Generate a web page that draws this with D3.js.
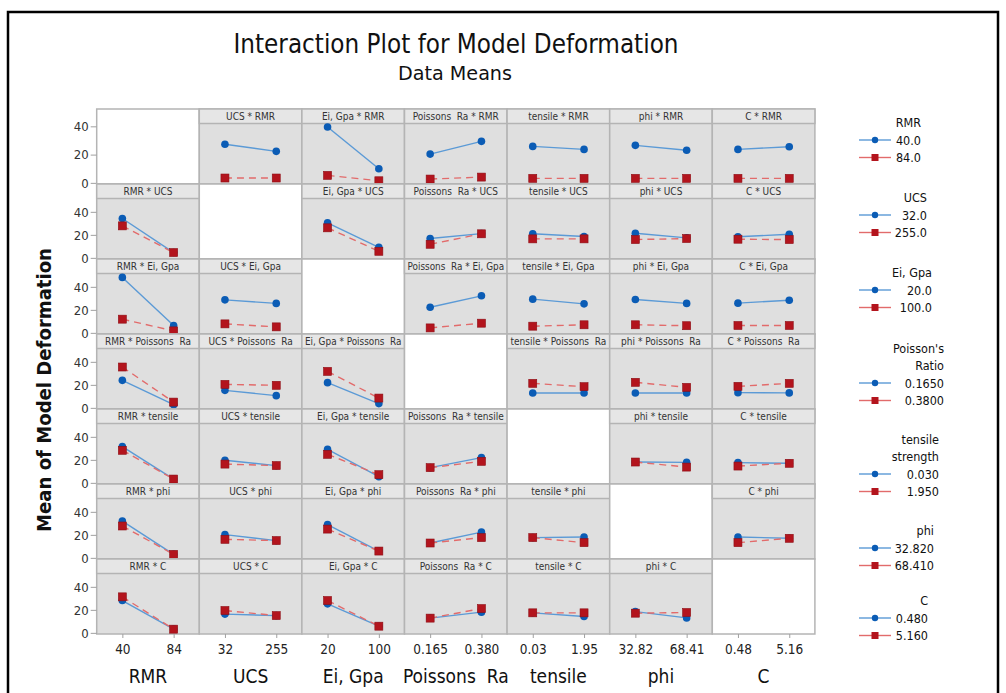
<!DOCTYPE html>
<html>
<head>
<meta charset="utf-8">
<script src="https://cdn.jsdelivr.net/npm/d3@7"></script>
<style>
  body { margin: 0; background: #fff; }
  text { font-family: "Liberation Sans Narrow", "DejaVu Sans Condensed", "Open Sans", sans-serif; font-stretch: condensed; }
  .keep { white-space: pre; }
</style>
</head>
<body>
<div id="chart"></div>
<script>
// factors (rows = trace factor, columns = x factor)
const factors = ["RMR", "UCS", "Ei, Gpa", "Poissons  Ra", "tensile", "phi", "C"];
const xTickLabels = [["40", "84"], ["32", "255"], ["20", "100"], ["0.165", "0.380"], ["0.03", "1.95"], ["32.82", "68.41"], ["0.48", "5.16"]];
const legendTitles = [["RMR"], ["UCS"], ["Ei, Gpa"], ["Poisson's", "Ratio"], ["tensile", "strength"], ["phi"], ["C"]];
const legendLevels = [["40.0", "84.0"], ["32.0", "255.0"], ["20.0", "100.0"], ["0.1650", "0.3800"], ["0.030", "1.950"], ["32.820", "68.410"], ["0.480", "5.160"]];
const yTicks = [0, 20, 40];

// means: each entry = [at low x level, at high x level], null on the diagonal
const rmrLow   = [null, [33.5, 27.4], [48.5, 12.3], [25.0, 36.1], [31.7, 29.1], [32.6, 28.3], [29.1, 31.4]];
const rmrHigh  = [null, [4.2, 4.2], [6.5, 1.8], [3.3, 5.0], [3.9, 3.9], [3.9, 3.9], [3.9, 3.9]];
const ucsLow   = [[34.2, 4.6], null, [30.4, 9.2], [16.8, 21.1], [20.9, 18.5], [21.4, 17.4], [18.3, 20.5]];
const ucsHigh  = [[27.8, 4.6], null, [26.1, 5.7], [11.8, 20.9], [16.5, 16.5], [15.9, 16.8], [16.2, 15.9]];
const eiLow    = [[48.2, 6.4], [28.7, 25.6], null, [22.3, 32.2], [29.3, 25.2], [29.0, 25.6], [25.8, 28.4]];
const eiHigh   = [[11.9, 1.7], [7.8, 5.2], null, [4.3, 8.4], [5.8, 7.0], [7.0, 6.2], [6.4, 6.4]];
const poisLow  = [[23.9, 2.8], [15.2, 10.6], [21.9, 3.7], null, [12.9, 12.9], [12.9, 12.9], [13.2, 13.0]];
const poisHigh = [[35.5, 5.0], [20.4, 19.6], [31.7, 8.5], null, [21.3, 18.4], [22.2, 17.8], [18.7, 21.3]];
const tensLow  = [[31.5, 3.3], [19.6, 15.0], [29.1, 5.4], [13.2, 21.9], null, [18.1, 17.8], [17.6, 17.0]];
const tensHigh = [[28.3, 3.3], [16.3, 15.0], [24.8, 7.1], [13.2, 18.7], null, [18.1, 13.7], [14.6, 17.0]];
const phiLow   = [[32.0, 3.0], [20.2, 15.0], [28.9, 5.9], [12.9, 22.4], [17.6, 18.1], null, [18.1, 17.0]];
const phiHigh  = [[27.7, 3.0], [16.1, 15.0], [25.0, 5.9], [12.9, 17.6], [17.6, 13.2], null, [13.2, 17.0]];
const cLow     = [[28.1, 3.2], [16.3, 15.0], [25.2, 5.8], [12.8, 18.0], [17.4, 14.2], [18.5, 13.0], null];
const cHigh    = [[31.3, 3.2], [19.4, 15.0], [28.1, 5.8], [12.8, 21.1], [17.4, 17.4], [17.1, 17.7], null];

const lowMeans = [rmrLow, ucsLow, eiLow, poisLow, tensLow, phiLow, cLow];
const highMeans = [rmrHigh, ucsHigh, eiHigh, poisHigh, tensHigh, phiHigh, cHigh];

// layout
const W = 1006, H = 693;
const gridLeft = 96.7, gridTop = 109, colW = 102.6, rowH = 75, headH = 14.5;
const legendRight = [921, 927, 932, 944, 939, 934, 928];
const legendEntryY = [140, 215, 290, 383, 474, 548, 618];

const blueLine = "#5b9ad6", blueMark = "#0b5cb5";
const redLine = "#e26b6b", redMark = "#b3141d";

const svg = d3.select("#chart").append("svg")
  .attr("width", W).attr("height", H);

svg.append("rect")
  .attr("x", 8).attr("y", 12).attr("width", 990).attr("height", 700)
  .attr("fill", "none").attr("stroke", "#000").attr("stroke-width", 2.5);

// titles
svg.append("text")
  .attr("x", 456).attr("y", 53).attr("text-anchor", "middle")
  .attr("font-size", 27).attr("fill", "#111")
  .attr("textLength", 445).attr("lengthAdjust", "spacingAndGlyphs")
  .text("Interaction Plot for Model Deformation");
svg.append("text")
  .attr("x", 455).attr("y", 80).attr("text-anchor", "middle")
  .attr("font-size", 20).attr("fill", "#111")
  .attr("textLength", 114).attr("lengthAdjust", "spacingAndGlyphs")
  .text("Data Means");
svg.append("text")
  .attr("transform", "translate(51,390) rotate(-90)")
  .attr("text-anchor", "middle").attr("font-size", 19).attr("font-weight", "bold")
  .attr("fill", "#111")
  .attr("textLength", 284).attr("lengthAdjust", "spacingAndGlyphs")
  .text("Mean of Model Deformation");

// scales
const col = d3.scaleBand().domain(d3.range(7)).range([gridLeft, gridLeft + 7 * colW]);
const row = d3.scaleBand().domain(d3.range(7)).range([gridTop, gridTop + 7 * rowH]);
const x = d3.scalePoint().domain([0, 1]).range([0, colW]).padding(0.5);
const y = d3.scaleLinear().domain([-1, 51.6]).range([rowH, headH]);
const yTop = d3.scaleLinear().domain([-0.8, 42]).range([rowH, headH]); // first row axis as printed

const line = d3.line().x((d, k) => x(k)).y(d => y(d));

for (let i = 0; i < 7; i++) {
  for (let j = 0; j < 7; j++) {
    const g = svg.append("g").attr("transform", `translate(${col(j)},${row(i)})`);
    if (i === j) {
      g.append("rect").attr("width", colW).attr("height", rowH)
        .attr("fill", "#fff").attr("stroke", "#b4b4b4").attr("stroke-width", 1.5);
      continue;
    }
    g.append("rect").attr("width", colW).attr("height", rowH)
      .attr("fill", "#dfdfdf").attr("stroke", "#b4b4b4").attr("stroke-width", 1.5);
    g.append("rect").attr("width", colW).attr("height", headH)
      .attr("fill", "#e6e6e6").attr("stroke", "#b4b4b4").attr("stroke-width", 1.5);
    const ht = g.append("text").attr("class", "keep")
      .attr("x", colW / 2).attr("y", headH - 3.5).attr("text-anchor", "middle")
      .attr("font-size", 10).attr("fill", "#333")
      .text(factors[j] + " * " + factors[i]);
    if (ht.node().getComputedTextLength() > colW - 6) {
      ht.attr("textLength", colW - 6).attr("lengthAdjust", "spacingAndGlyphs");
    }

    const lo = lowMeans[i][j], hi = highMeans[i][j];
    g.append("path").datum(lo).attr("d", line)
      .attr("fill", "none").attr("stroke", blueLine).attr("stroke-width", 1.4);
    g.selectAll(".pl").data(lo).join("circle")
      .attr("cx", (d, k) => x(k)).attr("cy", d => y(d)).attr("r", 3.8)
      .attr("fill", blueMark);
    g.append("path").datum(hi).attr("d", line)
      .attr("fill", "none").attr("stroke", redLine).attr("stroke-width", 1.4)
      .attr("stroke-dasharray", "7,5");
    g.selectAll(".ph").data(hi).join("rect")
      .attr("x", (d, k) => x(k) - 4).attr("y", d => y(d) - 4)
      .attr("width", 8).attr("height", 8)
      .attr("fill", redMark).attr("stroke", "#8e0e15").attr("stroke-width", 0.6);
  }

  // y axis for the row
  const ay = svg.append("g").attr("transform", `translate(${gridLeft},${row(i)})`)
    .call(d3.axisLeft(i === 0 ? yTop : y).tickValues(yTicks).tickSize(6).tickPadding(2));
  ay.select(".domain").remove();
  ay.selectAll("line").attr("stroke", "#a0a0a0");
  ay.selectAll("text").attr("font-size", 13).attr("fill", "#333");
}

// x axes along the bottom
for (let j = 0; j < 7; j++) {
  const ax = svg.append("g").attr("transform", `translate(${col(j)},${gridTop + 7 * rowH})`)
    .call(d3.axisBottom(x).tickFormat(k => xTickLabels[j][k]).tickSize(4).tickPadding(6));
  ax.select(".domain").remove();
  ax.selectAll("line").attr("stroke", "#a0a0a0");
  ax.selectAll("text").attr("font-size", 13.5).attr("fill", "#222");
  svg.append("text").attr("class", "keep")
    .attr("x", col(j) + colW / 2).attr("y", 683).attr("text-anchor", "middle")
    .attr("font-size", 19).attr("fill", "#111")
    .text(factors[j]);
}

// legend
for (let i = 0; i < 7; i++) {
  const lg = svg.append("g");
  const ey = legendEntryY[i];
  const nT = legendTitles[i].length;
  legendTitles[i].forEach((t, k) => {
    lg.append("text").attr("x", legendRight[i]).attr("y", ey - (nT - k) * 17.5 + 4.5)
      .attr("text-anchor", "end").attr("font-size", 12.5).attr("fill", "#111").text(t);
  });
  [0, 1].forEach(k => {
    const yy = ey + k * 17.5;
    lg.append("line").attr("x1", 859).attr("x2", 891).attr("y1", yy).attr("y2", yy)
      .attr("stroke", k ? redLine : blueLine).attr("stroke-width", 1.4);
    if (k) {
      lg.append("rect").attr("x", 871.5).attr("y", yy - 3.5).attr("width", 7).attr("height", 7)
        .attr("fill", redMark);
    } else {
      lg.append("circle").attr("cx", 875).attr("cy", yy).attr("r", 3.2).attr("fill", blueMark);
    }
    lg.append("text").attr("x", legendRight[i]).attr("y", yy + 4.5)
      .attr("text-anchor", "end").attr("font-size", 12.5).attr("fill", "#111")
      .text(legendLevels[i][k]);
  });
}
</script>
</body>
</html>
